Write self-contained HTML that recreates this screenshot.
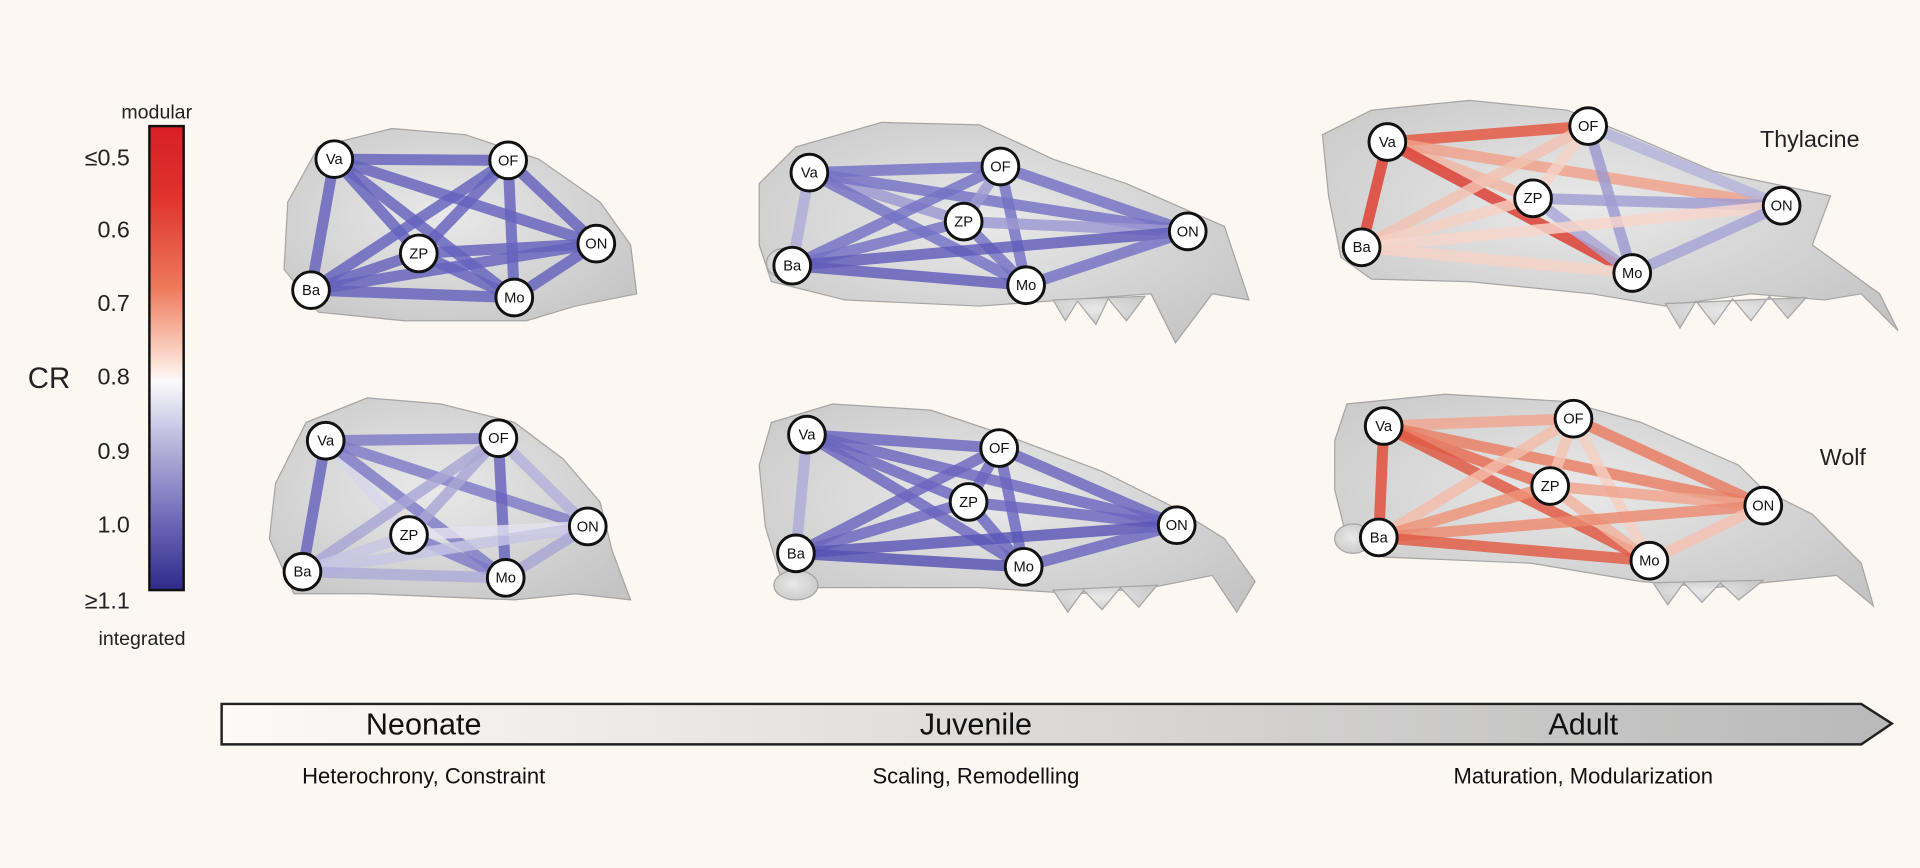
<!DOCTYPE html>
<html><head><meta charset="utf-8"><style>
html,body{margin:0;padding:0;background:#fdf7f2;}
svg{display:block;}
text{font-family:"Liberation Sans",sans-serif;}
</style></head><body>
<svg width="1920" height="868" viewBox="0 0 1568 709" preserveAspectRatio="none" xmlns="http://www.w3.org/2000/svg">
<defs>
<linearGradient id="cb" x1="0" y1="0" x2="0" y2="1">
<stop offset="0" stop-color="#d81f26"/><stop offset="0.15" stop-color="#e0322c"/><stop offset="0.35" stop-color="#ee7a5c"/><stop offset="0.52" stop-color="#fde7dc"/><stop offset="0.55" stop-color="#fbfbfd"/><stop offset="0.7" stop-color="#b1aed8"/><stop offset="0.85" stop-color="#6d69b8"/><stop offset="1" stop-color="#2d2a8a"/>
</linearGradient>
<linearGradient id="ar" x1="0" y1="0" x2="1" y2="0">
<stop offset="0" stop-color="#fdfaf7"/><stop offset="1" stop-color="#b9b9b9"/>
</linearGradient>
<radialGradient id="sk" cx="0.45" cy="0.45" r="0.7"><stop offset="0" stop-color="#e9e9e9"/><stop offset="1" stop-color="#c4c4c4"/></radialGradient>
</defs>
<rect width="1568" height="709" fill="#fdf7f2"/>
<g fill="url(#sk)" stroke="#a5a5a5" stroke-width="1">
<polygon points="235,165 260,120 320,105 380,110 440,130 490,165 515,200 520,240 470,250 430,262 330,262 260,255 232,220"/>
<polygon points="620,150 650,120 720,100 800,102 860,130 920,150 1000,185 1010,215 1020,245 990,240 960,280 940,240 870,245 800,250 690,245 630,230 620,200"/>
<polygon points="1080,110 1120,90 1200,82 1280,90 1330,110 1400,140 1495,160 1480,200 1535,240 1550,270 1520,240 1490,245 1430,240 1360,250 1300,240 1200,230 1120,228 1095,210 1085,160"/>
<polygon points="225,395 250,345 300,325 360,330 420,345 460,375 490,410 500,450 515,490 470,485 420,490 300,485 240,485 220,440"/>
<polygon points="620,380 630,345 680,330 760,335 820,355 900,385 960,415 1000,440 1025,475 1010,500 990,470 940,480 880,485 800,480 700,480 640,480 625,430"/>
<polygon points="1090,360 1100,330 1180,322 1280,328 1340,345 1420,380 1440,400 1480,420 1520,460 1530,495 1500,470 1450,475 1400,480 1340,475 1250,460 1130,455 1100,440 1090,400"/>
<polygon points="860,245 870,262 880,246 895,265 905,244 920,262 935,242"/>
<polygon points="1360,248 1372,268 1385,246 1400,265 1415,244 1430,262 1445,242 1460,260 1475,243"/>
<polygon points="860,482 872,500 885,482 900,498 915,480 930,496 945,478"/>
<polygon points="1350,476 1362,494 1375,476 1390,492 1405,476 1420,490 1440,474"/>
<ellipse cx="640" cy="215" rx="14" ry="12"/><ellipse cx="1105" cy="440" rx="15" ry="12"/><ellipse cx="650" cy="478" rx="18" ry="12"/>
</g>
<g stroke-width="9" stroke-opacity="0.82">
<g stroke="#6462bd">
<line x1="273" y1="130" x2="415" y2="131"/><line x1="273" y1="130" x2="342" y2="207"/><line x1="273" y1="130" x2="487" y2="199"/><line x1="273" y1="130" x2="254" y2="237"/><line x1="273" y1="130" x2="420" y2="243"/>
<line x1="415" y1="131" x2="342" y2="207"/><line x1="415" y1="131" x2="487" y2="199"/><line x1="415" y1="131" x2="254" y2="237"/><line x1="415" y1="131" x2="420" y2="243"/>
<line x1="342" y1="207" x2="487" y2="199"/><line x1="342" y1="207" x2="254" y2="237"/><line x1="342" y1="207" x2="420" y2="243"/>
<line x1="487" y1="199" x2="254" y2="237"/><line x1="487" y1="199" x2="420" y2="243"/><line x1="254" y1="237" x2="420" y2="243"/>
</g>
<g stroke="#7471c4">
<line x1="661" y1="141" x2="817" y2="136"/><line x1="661" y1="141" x2="787" y2="181" stroke="#9c99d2"/><line x1="661" y1="141" x2="970" y2="189"/><line x1="661" y1="141" x2="647" y2="217" stroke="#aeabd9"/><line x1="661" y1="141" x2="838" y2="233"/>
<line x1="817" y1="136" x2="787" y2="181" stroke="#9c99d2"/><line x1="817" y1="136" x2="970" y2="189"/><line x1="817" y1="136" x2="647" y2="217"/><line x1="817" y1="136" x2="838" y2="233"/>
<line x1="787" y1="181" x2="970" y2="189" stroke="#9c99d2"/><line x1="787" y1="181" x2="647" y2="217"/><line x1="787" y1="181" x2="838" y2="233"/>
<line x1="970" y1="189" x2="647" y2="217" stroke="#5f5cba"/><line x1="970" y1="189" x2="838" y2="233"/><line x1="647" y1="217" x2="838" y2="233" stroke="#5f5cba"/>
</g>
<g>
<line x1="1133" y1="116" x2="1297" y2="103" stroke="#e4553f"/><line x1="1133" y1="116" x2="1252" y2="162" stroke="#f2b5a2"/><line x1="1133" y1="116" x2="1455" y2="168" stroke="#f0a08a"/><line x1="1133" y1="116" x2="1112" y2="202" stroke="#de3a2e"/><line x1="1133" y1="116" x2="1333" y2="223" stroke="#dc3a2e"/>
<line x1="1297" y1="103" x2="1252" y2="162" stroke="#f5d2c6"/><line x1="1297" y1="103" x2="1455" y2="168" stroke="#b6b3db"/><line x1="1297" y1="103" x2="1112" y2="202" stroke="#f3c2b2"/><line x1="1297" y1="103" x2="1333" y2="223" stroke="#9c99d0"/>
<line x1="1252" y1="162" x2="1455" y2="168" stroke="#a19ed3"/><line x1="1252" y1="162" x2="1112" y2="202" stroke="#f5cfc2"/><line x1="1252" y1="162" x2="1333" y2="223" stroke="#a9a6d6"/>
<line x1="1455" y1="168" x2="1112" y2="202" stroke="#f6d6ca"/><line x1="1455" y1="168" x2="1333" y2="223" stroke="#a6a3d4"/><line x1="1112" y1="202" x2="1333" y2="223" stroke="#f5d3c6"/>
</g>
<g stroke="#7d7ac7">
<line x1="266" y1="360" x2="407" y2="358"/><line x1="266" y1="360" x2="334" y2="437" stroke="#d8d6ea"/><line x1="266" y1="360" x2="480" y2="430"/><line x1="266" y1="360" x2="247" y2="467" stroke="#6663bd"/><line x1="266" y1="360" x2="413" y2="472"/>
<line x1="407" y1="358" x2="334" y2="437" stroke="#a9a6d6"/><line x1="407" y1="358" x2="480" y2="430" stroke="#b4b1dc"/><line x1="407" y1="358" x2="247" y2="467" stroke="#a9a6d6"/><line x1="407" y1="358" x2="413" y2="472" stroke="#6663bd"/>
<line x1="334" y1="437" x2="480" y2="430" stroke="#e4e2ef"/><line x1="334" y1="437" x2="247" y2="467" stroke="#c8c6e4"/><line x1="334" y1="437" x2="413" y2="472"/>
<line x1="480" y1="430" x2="247" y2="467" stroke="#c8c6e4"/><line x1="480" y1="430" x2="413" y2="472" stroke="#a9a6d6"/><line x1="247" y1="467" x2="413" y2="472" stroke="#aeabd9"/>
</g>
<g stroke="#6a67bf">
<line x1="659" y1="355" x2="816" y2="366"/><line x1="659" y1="355" x2="791" y2="410"/><line x1="659" y1="355" x2="961" y2="429"/><line x1="659" y1="355" x2="650" y2="452" stroke="#aeabd9"/><line x1="659" y1="355" x2="836" y2="463"/>
<line x1="816" y1="366" x2="791" y2="410"/><line x1="816" y1="366" x2="961" y2="429"/><line x1="816" y1="366" x2="650" y2="452"/><line x1="816" y1="366" x2="836" y2="463"/>
<line x1="791" y1="410" x2="961" y2="429"/><line x1="791" y1="410" x2="650" y2="452"/><line x1="791" y1="410" x2="836" y2="463"/>
<line x1="961" y1="429" x2="650" y2="452" stroke="#5956b6"/><line x1="961" y1="429" x2="836" y2="463"/><line x1="650" y1="452" x2="836" y2="463" stroke="#5552b3"/>
</g>
<g>
<line x1="1130" y1="348" x2="1285" y2="342" stroke="#f0a590"/><line x1="1130" y1="348" x2="1266" y2="397" stroke="#e66a50"/><line x1="1130" y1="348" x2="1440" y2="413" stroke="#ea7e63"/><line x1="1130" y1="348" x2="1126" y2="439" stroke="#e04a38"/><line x1="1130" y1="348" x2="1347" y2="458" stroke="#e05640"/>
<line x1="1285" y1="342" x2="1266" y2="397" stroke="#f4c4b3"/><line x1="1285" y1="342" x2="1440" y2="413" stroke="#e97a60"/><line x1="1285" y1="342" x2="1126" y2="439" stroke="#f3bca9"/><line x1="1285" y1="342" x2="1347" y2="458" stroke="#f5d0c2"/>
<line x1="1266" y1="397" x2="1440" y2="413" stroke="#f0a38d"/><line x1="1266" y1="397" x2="1126" y2="439" stroke="#ee9378"/><line x1="1266" y1="397" x2="1347" y2="458" stroke="#f2b29e"/>
<line x1="1440" y1="413" x2="1126" y2="439" stroke="#ec8a70"/><line x1="1440" y1="413" x2="1347" y2="458" stroke="#f4c2b1"/><line x1="1126" y1="439" x2="1347" y2="458" stroke="#e25a43"/>
</g>
</g>
<g fill="#fff" stroke="#111" stroke-width="2.4">
<circle cx="273" cy="130" r="15"/><circle cx="415" cy="131" r="15"/><circle cx="342" cy="207" r="15"/><circle cx="487" cy="199" r="15"/><circle cx="254" cy="237" r="15"/><circle cx="420" cy="243" r="15"/>
<circle cx="661" cy="141" r="15"/><circle cx="817" cy="136" r="15"/><circle cx="787" cy="181" r="15"/><circle cx="970" cy="189" r="15"/><circle cx="647" cy="217" r="15"/><circle cx="838" cy="233" r="15"/>
<circle cx="1133" cy="116" r="15"/><circle cx="1297" cy="103" r="15"/><circle cx="1252" cy="162" r="15"/><circle cx="1455" cy="168" r="15"/><circle cx="1112" cy="202" r="15"/><circle cx="1333" cy="223" r="15"/>
<circle cx="266" cy="360" r="15"/><circle cx="407" cy="358" r="15"/><circle cx="334" cy="437" r="15"/><circle cx="480" cy="430" r="15"/><circle cx="247" cy="467" r="15"/><circle cx="413" cy="472" r="15"/>
<circle cx="659" cy="355" r="15"/><circle cx="816" cy="366" r="15"/><circle cx="791" cy="410" r="15"/><circle cx="961" cy="429" r="15"/><circle cx="650" cy="452" r="15"/><circle cx="836" cy="463" r="15"/>
<circle cx="1130" cy="348" r="15"/><circle cx="1285" cy="342" r="15"/><circle cx="1266" cy="397" r="15"/><circle cx="1440" cy="413" r="15"/><circle cx="1126" cy="439" r="15"/><circle cx="1347" cy="458" r="15"/>
</g>
<g font-size="12" text-anchor="middle" fill="#111">
<text x="273" y="134">Va</text><text x="415" y="135">OF</text><text x="342" y="211">ZP</text><text x="487" y="203">ON</text><text x="254" y="241">Ba</text><text x="420" y="247">Mo</text>
<text x="661" y="145">Va</text><text x="817" y="140">OF</text><text x="787" y="185">ZP</text><text x="970" y="193">ON</text><text x="647" y="221">Ba</text><text x="838" y="237">Mo</text>
<text x="1133" y="120">Va</text><text x="1297" y="107">OF</text><text x="1252" y="166">ZP</text><text x="1455" y="172">ON</text><text x="1112" y="206">Ba</text><text x="1333" y="227">Mo</text>
<text x="266" y="364">Va</text><text x="407" y="362">OF</text><text x="334" y="441">ZP</text><text x="480" y="434">ON</text><text x="247" y="471">Ba</text><text x="413" y="476">Mo</text>
<text x="659" y="359">Va</text><text x="816" y="370">OF</text><text x="791" y="414">ZP</text><text x="961" y="433">ON</text><text x="650" y="456">Ba</text><text x="836" y="467">Mo</text>
<text x="1130" y="352">Va</text><text x="1285" y="346">OF</text><text x="1266" y="401">ZP</text><text x="1440" y="417">ON</text><text x="1126" y="443">Ba</text><text x="1347" y="462">Mo</text>
</g>
<rect x="122" y="103" width="28" height="379" fill="url(#cb)" stroke="#111" stroke-width="2"/>
<g fill="#222" font-size="16">
<text x="128" y="97" text-anchor="middle">modular</text>
<text x="116" y="527" text-anchor="middle">integrated</text>
<g font-size="19" text-anchor="end">
<text x="106" y="135">≤0.5</text><text x="106" y="194">0.6</text><text x="106" y="254">0.7</text><text x="106" y="314">0.8</text><text x="106" y="375">0.9</text><text x="106" y="435">1.0</text><text x="106" y="497">≥1.1</text>
</g>
<text x="40" y="317" font-size="24" text-anchor="middle">CR</text>
<text x="1478" y="120" font-size="19" text-anchor="middle">Thylacine</text>
<text x="1505" y="380" font-size="19" text-anchor="middle">Wolf</text>
</g>
<polygon points="181,575 1520,575 1545,591 1520,608 181,608" fill="url(#ar)" stroke="#222" stroke-width="2"/>
<g fill="#111" text-anchor="middle">
<text x="346" y="600" font-size="25">Neonate</text>
<text x="797" y="600" font-size="25">Juvenile</text>
<text x="1293" y="600" font-size="25">Adult</text>
<text x="346" y="640" font-size="18">Heterochrony, Constraint</text>
<text x="797" y="640" font-size="18">Scaling, Remodelling</text>
<text x="1293" y="640" font-size="18">Maturation, Modularization</text>
</g>
</svg>
</body></html>
